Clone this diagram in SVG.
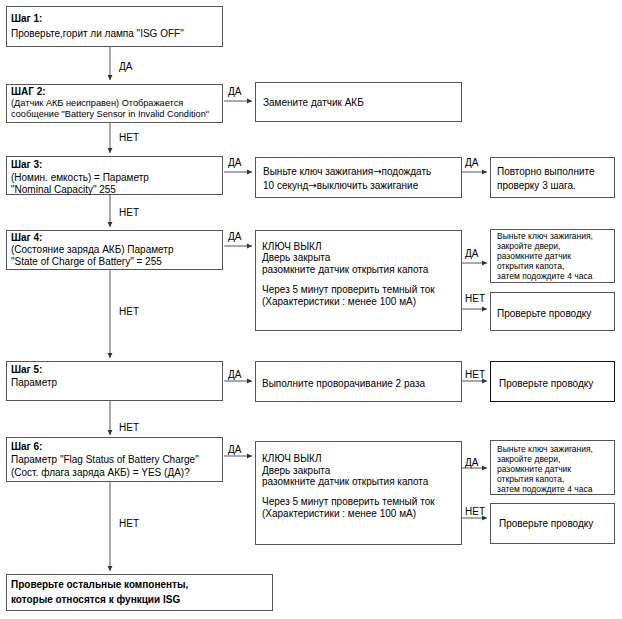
<svg xmlns="http://www.w3.org/2000/svg" width="622" height="619" viewBox="0 0 622 619">
<defs>
<marker id="ah" markerWidth="6" markerHeight="6" refX="5" refY="3" orient="auto" markerUnits="userSpaceOnUse">
<path d="M0,0.5 L5,3 L0,5.5 Z" fill="#333"/>
</marker>
<style>
.box{fill:#fff;stroke:#555;stroke-width:1}
.dark{stroke:#111}
text{font-family:"Liberation Sans",Arial,sans-serif;font-size:10px;fill:#000}
.b{font-weight:bold}
.s{font-size:9.2px}
.xs{font-size:8.5px}
.ar{font-family:"DejaVu Sans",sans-serif}
.c{stroke:#555;stroke-width:1;fill:none;marker-end:url(#ah)}
</style>
</defs>
<rect width="622" height="619" fill="#fff"/>
<g id="connectors">
<path class="c" d="M110,47 V80"/>
<path class="c" d="M110,122 V153"/>
<path class="c" d="M110,194 V227"/>
<path class="c" d="M110,269 V358"/>
<path class="c" d="M110,400 V435"/>
<path class="c" d="M110,481 V571"/>
<path class="c" d="M224,101 H252"/>
<path class="c" d="M224,172 H252"/>
<path class="c" d="M462,172 H487"/>
<path class="c" d="M224,246 H252"/>
<path class="c" d="M462,263 H487"/>
<path class="c" d="M462,309 H487"/>
<path class="c" d="M224,381 H252"/>
<path class="c" d="M462,381 H487"/>
<path class="c" d="M224,456 H252"/>
<path class="c" d="M462,468 H487"/>
<path class="c" d="M462,518 H487"/>
<text x="119" y="70">ДА</text>
<text x="119" y="141">НЕТ</text>
<text x="119" y="216">НЕТ</text>
<text x="119" y="315">НЕТ</text>
<text x="119" y="431">НЕТ</text>
<text x="119" y="527">НЕТ</text>
<text x="228" y="95">ДА</text>
<text x="228" y="166">ДА</text>
<text x="465" y="166">ДА</text>
<text x="228" y="240">ДА</text>
<text x="465" y="257">ДА</text>
<text x="465" y="302">НЕТ</text>
<text x="228" y="378">ДА</text>
<text x="465" y="378">НЕТ</text>
<text x="228" y="453">ДА</text>
<text x="465" y="466">ДА</text>
<text x="465" y="515">НЕТ</text>
</g>
<g id="step1">
<rect class="box" x="6.5" y="6.5" width="216" height="40"/>
<text class="b" x="11" y="22">Шаг 1:</text>
<text x="11" y="37">Проверьте,горит ли лампа "ISG OFF"</text>
</g>
<g id="step2">
<rect class="box" x="6.5" y="84.5" width="216" height="38"/>
<text class="b" x="11" y="95">ШАГ 2:</text>
<text class="s" x="11" y="106">(Датчик АКБ неисправен) Отображается</text>
<text class="s" x="11" y="117">сообщение "Battery Sensor in Invalid Condition"</text>
</g>
<g id="replace-sensor">
<rect class="box" x="255.5" y="82.5" width="206" height="39"/>
<text x="263" y="106">Замените датчик АКБ</text>
</g>
<g id="step3">
<rect class="box" x="6.5" y="156.5" width="216" height="38"/>
<text class="b" x="11" y="168">Шаг 3:</text>
<text x="11" y="181">(Номин. емкость) = Параметр</text>
<text x="11" y="193">"Nominal Capacity" 255</text>
</g>
<g id="key-wait">
<rect class="box" x="255.5" y="157.5" width="206" height="40"/>
<text x="263" y="175">Выньте ключ зажигания<tspan class="ar">→</tspan>подождать</text>
<text x="263" y="189">10 секунд<tspan class="ar">→</tspan>выключить зажигание</text>
</g>
<g id="repeat3">
<rect class="box" x="490.5" y="157.5" width="124" height="40"/>
<text x="497" y="175">Повторно выполните</text>
<text x="497" y="189">проверку 3 шага.</text>
</g>
<g id="step4">
<rect class="box" x="6.5" y="230.5" width="216" height="39"/>
<text class="b" x="11" y="241">Шаг 4:</text>
<text x="11" y="253">(Состояние заряда АКБ) Параметр</text>
<text x="11" y="265">"State of Charge of Battery" = 255</text>
</g>
<g id="dark-current-1">
<rect class="box" x="255.5" y="230.5" width="206" height="100"/>
<text x="262" y="250">КЛЮЧ ВЫКЛ</text>
<text x="262" y="261">Дверь закрыта</text>
<text x="262" y="273">разомкните датчик открытия капота</text>
<text x="262" y="293">Через 5 минут проверить темный ток</text>
<text x="262" y="305">(Характеристики : менее 100 мА)</text>
</g>
<g id="wait4h-1">
<rect class="box" x="490.5" y="229.5" width="124" height="53"/>
<text class="xs" x="497" y="239">Выньте ключ зажигания,</text>
<text class="xs" x="497" y="249">закройте двери,</text>
<text class="xs" x="497" y="259">разомкните датчик</text>
<text class="xs" x="497" y="269">открытия капота,</text>
<text class="xs" x="497" y="279">затем подождите 4 часа</text>
</g>
<g id="wiring-1">
<rect class="box" x="490.5" y="292.5" width="124" height="38"/>
<text x="497" y="317">Проверьте проводку</text>
</g>
<g id="step5">
<rect class="box" x="6.5" y="361.5" width="216" height="39"/>
<text class="b" x="11" y="373">Шаг 5:</text>
<text x="11" y="386">Параметр</text>
</g>
<g id="crank">
<rect class="box" x="255.5" y="361.5" width="206" height="40"/>
<text x="262" y="387">Выполните проворачивание 2 раза</text>
</g>
<g id="wiring-2">
<rect class="box dark" x="490.5" y="361.5" width="124" height="40"/>
<text x="499" y="387">Проверьте проводку</text>
</g>
<g id="step6">
<rect class="box" x="6.5" y="437.5" width="216" height="44"/>
<text class="b" x="11" y="450">Шаг 6:</text>
<text x="11" y="463">Параметр "Flag Status of Battery Charge"</text>
<text x="11" y="476">(Сост. флага заряда АКБ) = YES (ДА)?</text>
</g>
<g id="dark-current-2">
<rect class="box" x="255.5" y="441.5" width="206" height="103"/>
<text x="262" y="462">КЛЮЧ ВЫКЛ</text>
<text x="262" y="474">Дверь закрыта</text>
<text x="262" y="485">разомкните датчик открытия капота</text>
<text x="262" y="505">Через 5 минут проверить темный ток</text>
<text x="262" y="517">(Характеристики : менее 100 мА)</text>
</g>
<g id="wait4h-2">
<rect class="box" x="490.5" y="440.5" width="124" height="54"/>
<text class="xs" x="497" y="452">Выньте ключ зажигания,</text>
<text class="xs" x="497" y="462">закройте двери,</text>
<text class="xs" x="497" y="472">разомкните датчик</text>
<text class="xs" x="497" y="482">открытия капота,</text>
<text class="xs" x="497" y="492">затем подождите 4 часа</text>
</g>
<g id="wiring-3">
<rect class="box" x="490.5" y="503.5" width="124" height="40"/>
<text x="499" y="527">Проверьте проводку</text>
</g>
<g id="final">
<rect class="box" x="6.5" y="574.5" width="266" height="36"/>
<text class="b" x="11" y="588">Проверьте остальные компоненты,</text>
<text class="b" x="11" y="603">которые относятся к функции ISG</text>
</g>
</svg>
